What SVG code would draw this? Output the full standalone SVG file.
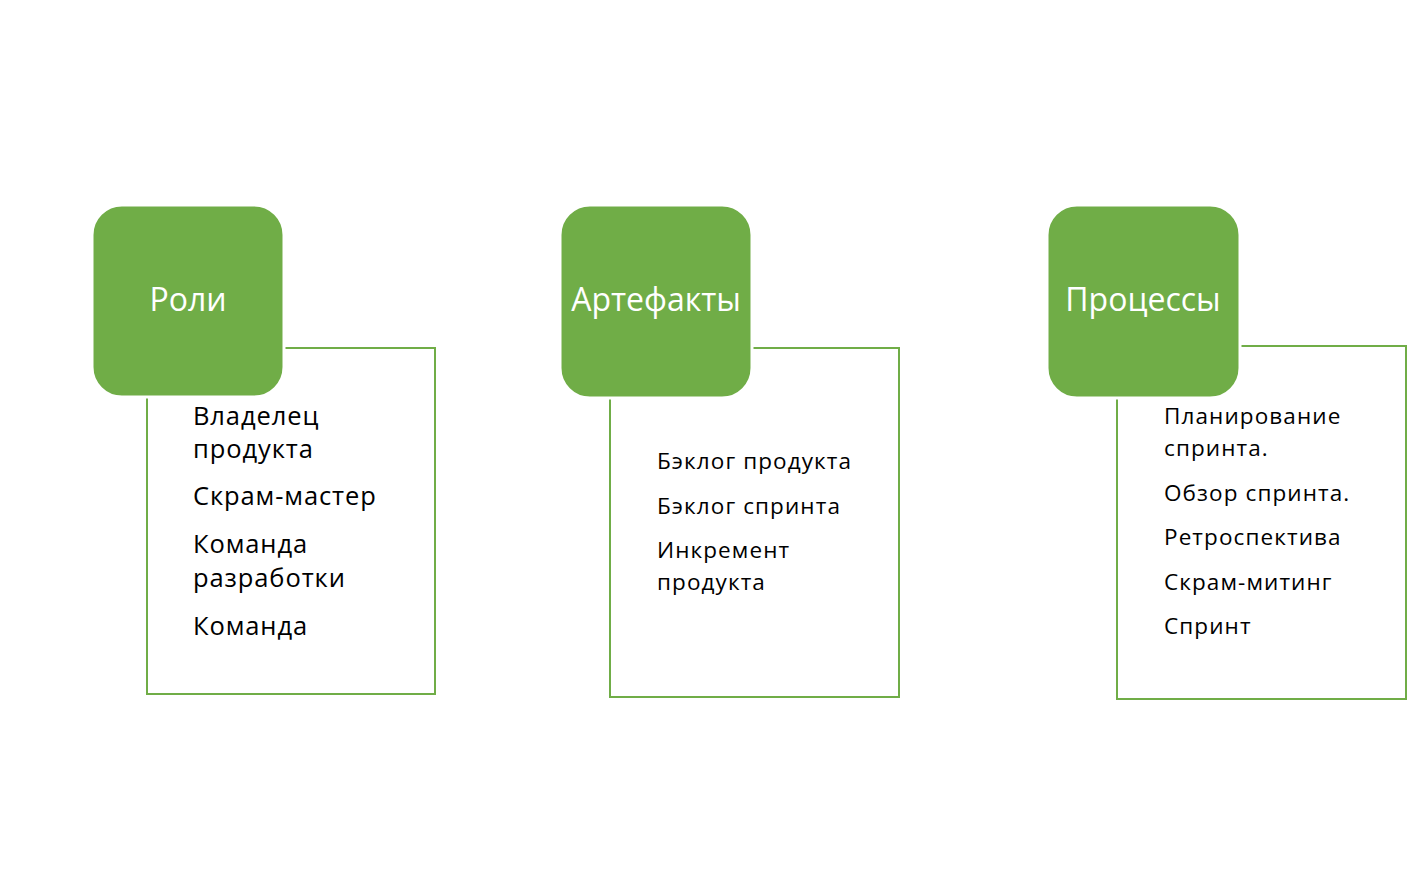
<svg xmlns="http://www.w3.org/2000/svg" width="1407" height="889" viewBox="0 0 1407 889">
<style>
.box{fill:#fff;stroke:#70AD47;stroke-width:2}
.head{fill:#70AD47;stroke:#fff;stroke-width:3}
.title{font-family:"Open Sans","Noto Sans",sans-serif;font-size:32px;fill:#fff;text-anchor:middle}
.item{font-family:"Open Sans","Noto Sans",sans-serif;fill:#000}
.a{font-size:25.5px;letter-spacing:0.9px}
.b{font-size:22.5px;letter-spacing:1.1px}
</style>
<rect width="1407" height="889" fill="#fff"/>
<g id="roles">
<rect class="box" x="147" y="348" width="288" height="346"/>
<rect class="head" x="92" y="205" width="192" height="192" rx="30"/>
<text class="title" x="188" y="311">Роли</text>
<g class="item a">
<text x="193" y="425">Владелец</text>
<text x="193" y="458">продукта</text>
<text x="193" y="505">Скрам-мастер</text>
<text x="193" y="553">Команда</text>
<text x="193" y="587">разработки</text>
<text x="193" y="635">Команда</text>
</g>
</g>
<g id="artifacts">
<rect class="box" x="610" y="348" width="289" height="349"/>
<rect class="head" x="560" y="205" width="192" height="193" rx="30"/>
<text class="title" x="656" y="311">Артефакты</text>
<g class="item b">
<text x="657" y="469">Бэклог продукта</text>
<text x="657" y="514">Бэклог спринта</text>
<text x="657" y="558">Инкремент</text>
<text x="657" y="590">продукта</text>
</g>
</g>
<g id="processes">
<rect class="box" x="1117" y="346" width="289" height="353"/>
<rect class="head" x="1047" y="205" width="193" height="193" rx="30"/>
<text class="title" x="1143" y="311">Процессы</text>
<g class="item b">
<text x="1164" y="424">Планирование</text>
<text x="1164" y="456">спринта.</text>
<text x="1164" y="501">Обзор спринта.</text>
<text x="1164" y="545">Ретроспектива</text>
<text x="1164" y="590">Скрам-митинг</text>
<text x="1164" y="634">Спринт</text>
</g>
</g>
<g id="connectors"></g>
</svg>
